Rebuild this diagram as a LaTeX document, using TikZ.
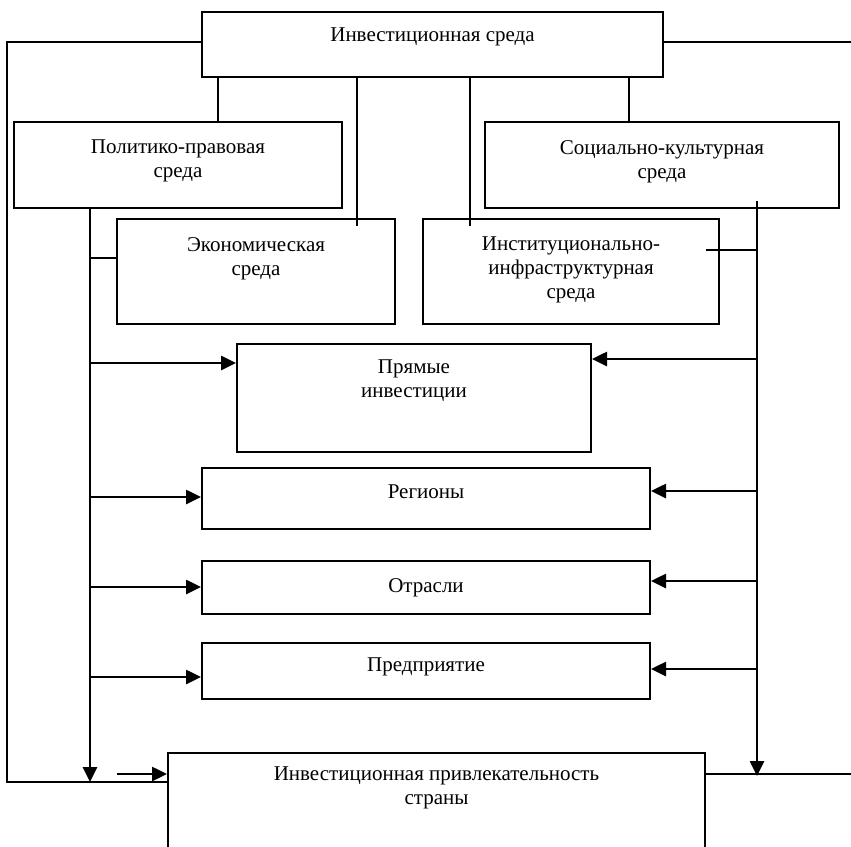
\documentclass[tikz,border=0pt]{standalone}
\usepackage{fontspec}
\setmainfont{Liberation Serif}
\usetikzlibrary{positioning,arrows.meta}

\begin{document}
\begin{tikzpicture}[x=1pt,y=-1pt,
    box/.style={draw,line width=2pt,inner sep=0pt},
    txt/.style={inner sep=0pt,align=center,font=\fontsize{21}{24}\selectfont},
    link/.style={line width=2pt},
    bus/.style={line width=2.6pt},
    arw/.style={line width=2.6pt,-{Triangle[length=15pt,width=14pt]}},
    frame/.style={line width=1.8pt}]
  \useasboundingbox (0,0) rectangle (851,846);
  % Boxes
  \node[box,minimum width=461,minimum height=65] (inv) at (432.5,44.5) {};
  \node[box,minimum width=328,minimum height=86] (polit) at (178,165) {};
  \node[box,minimum width=354,minimum height=86] (soc) at (662,165) {};
  \node[box,minimum width=278,minimum height=105] (econ) at (256,271.5) {};
  \node[box,minimum width=296,minimum height=105] (inst) at (571,271.5) {};
  \node[box,minimum width=354,minimum height=108] (pryam) at (414,398) {};
  \node[box,minimum width=448,minimum height=61] (reg) at (426,498.5) {};
  \node[box,minimum width=448,minimum height=53] (otr) at (426,587.5) {};
  \node[box,minimum width=448,minimum height=56] (pred) at (426,671) {};
  \node[box,minimum width=537,minimum height=120] (attr) at (436.5,813) {};
  % Texts
  \node[txt,below=17pt of inv.north] (invT) {Инвестиционная среда};
  \node[txt,below=19pt of polit.north] (politT) {Политико-правовая\\среда};
  \node[txt,below=19pt of soc.north] (socT) {Социально-культурная\\среда};
  \node[txt,below=19pt of econ.north] (econT) {Экономическая\\среда};
  \node[txt,below=19pt of inst.north] (instT) {Институционально-\\инфраструктурная\\среда};
  \node[txt,below=17pt of pryam.north] (pryamT) {Прямые\\инвестиции};
  \node[txt,below=18pt of reg.north] (regT) {Регионы};
  \node[txt,below=18pt of otr.north] (otrT) {Отрасли};
  \node[txt,below=16pt of pred.north] (predT) {Предприятие};
  \node[txt,below=15pt of attr.north] (attrT) {Инвестиционная привлекательность\\страны};
  % Bus points
  \coordinate (lbus) at (90,782);
  \coordinate (rbus) at (757,776);
  \coordinate (sm) at (117,774);
  % Links from the top box
  \draw[link] (inv.south -| 218,0) -- (polit.north -| 218,0);
  \draw[link] (inv.south -| 357,0) -- (econ.north -| 357,0) -- ++(0,8);
  \draw[link] (inv.south -| 470,0) -- (inst.north -| 470,0) -- ++(0,8);
  \draw[link] (inv.south -| 629,0) -- (soc.north -| 629,0);
  % Left bus
  \draw[arw] (polit.south -| lbus) -- (lbus);
  \draw[bus] (econ.west |- 0,258) -- (lbus |- 0,258);
  \foreach \n/\y in {pryam/363,reg/497,otr/587,pred/677}
    \draw[arw] (lbus |- 0,\y) -- (\n.west |- 0,\y);
  % Right bus
  \draw[arw] (soc.south -| rbus) ++(0,-8) -- (rbus);
  \draw[bus] (inst.east |- 0,250) ++(-14,0) -- (rbus |- 0,250);
  \foreach \n/\y in {pryam/359,reg/491,otr/581,pred/669}
    \draw[arw] (rbus |- 0,\y) -- (\n.east |- 0,\y);
  % Small arrow
  \draw[arw] (sm) -- (attr.west |- sm);
  % Frame
  \draw[frame] (inv.west |- 0,42) -- (7,42) -- (7,782) -- (attr.west |- 0,782);
  \draw[frame] (inv.east |- 0,42) -- (851,42);
  \draw[frame] (attr.east |- 0,774) -- (851,774);
\end{tikzpicture}
\end{document}
